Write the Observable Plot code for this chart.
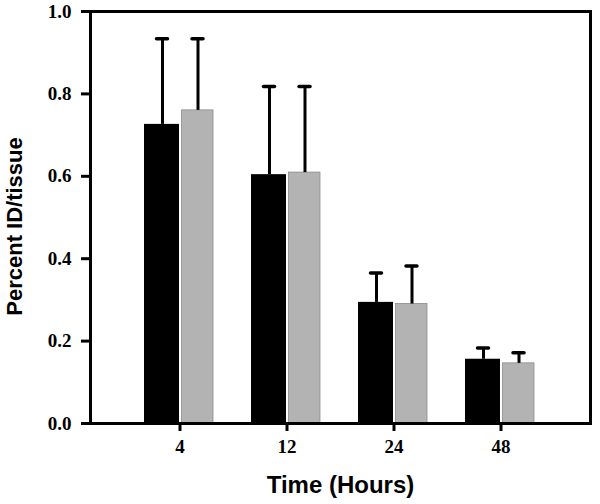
<!DOCTYPE html>
<html>
<head>
<meta charset="utf-8">
<script src="https://cdn.jsdelivr.net/npm/d3@7"></script>
<script src="https://cdn.jsdelivr.net/npm/@observablehq/plot@0.6"></script>
<style>
  html, body { margin: 0; padding: 0; background: #fff; }
</style>
</head>
<body>
<div id="chart"></div>
<script>
const times = ["4", "12", "24", "48"];
const meanBlack = [0.726, 0.604, 0.294, 0.156];
const sdBlack   = [0.208, 0.214, 0.071, 0.027];
const meanGrey  = [0.760, 0.609, 0.290, 0.146];
const sdGrey    = [0.174, 0.209, 0.092, 0.026];
const yTicks = [0, 0.2, 0.4, 0.6, 0.8, 1.0];
const xLabel = "Time (Hours)";
const yLabel = "Percent ID/tissue";

const black = times.map((t, i) => ({time: t, mean: meanBlack[i], top: meanBlack[i] + sdBlack[i]}));
const grey  = times.map((t, i) => ({time: t, mean: meanGrey[i],  top: meanGrey[i] + sdGrey[i]}));

const sans = "'Liberation Sans', Arial, sans-serif";
const serif = "'Liberation Serif', 'Times New Roman', serif";
const fmt = d3.format(".1f");

const chart = Plot.plot({
  width: 600,
  height: 504,
  marginLeft: 90,
  marginRight: 10,
  marginTop: 11,
  marginBottom: 81,
  style: {background: "white", color: "black"},
  x: {domain: times, paddingInner: 0, paddingOuter: 0.336, axis: null},
  y: {domain: [0, 1], axis: null},
  marks: [
    Plot.barY(black, {x: "time", y: "mean", fill: "black", insetLeft: 18, insetRight: 54}),
    Plot.barY(grey, {x: "time", y: "mean", fill: "#b3b3b3", stroke: "#8c8c8c", strokeWidth: 0.8, insetLeft: 55.5, insetRight: 20}),
    Plot.ruleX(black, {x: "time", y1: "mean", y2: "top", dx: -17.5, stroke: "black", strokeWidth: 3}),
    Plot.ruleX(grey, {x: "time", y1: "mean", y2: "top", dx: 18, stroke: "black", strokeWidth: 3}),
    Plot.tickY(black, {x: "time", y: "top", dx: -17.5, insetLeft: 48, insetRight: 48, stroke: "black", strokeWidth: 3.5, strokeLinecap: "round"}),
    Plot.tickY(grey, {x: "time", y: "top", dx: 18, insetLeft: 48, insetRight: 48, stroke: "black", strokeWidth: 3.5, strokeLinecap: "round"}),
    Plot.frame({stroke: "black", strokeWidth: 3}),
    Plot.axisY({ticks: yTicks, tickFormat: () => "", tickSize: 9, strokeWidth: 3, label: null}),
    Plot.axisX({tickSize: 8, tickFormat: () => "", strokeWidth: 3, label: null}),
    Plot.text(yTicks, {y: d => d, text: d => fmt(d), frameAnchor: "left", dx: -19, textAnchor: "end", fontFamily: serif, fontWeight: "bold", fontSize: 19, fill: "black"}),
    Plot.text(times, {x: d => d, text: d => d, frameAnchor: "bottom", dy: 29, fontFamily: serif, fontWeight: "bold", fontSize: 19, fill: "black"}),
    Plot.text([xLabel], {frameAnchor: "bottom", dy: 69, fontFamily: sans, fontWeight: "bold", fontSize: 24, fill: "black"}),
    Plot.text([yLabel], {frameAnchor: "left", dx: -76, dy: 9, rotate: -90, textAnchor: "middle", fontFamily: sans, fontWeight: "bold", fontSize: 22, fill: "black"})
  ]
});
document.getElementById("chart").appendChild(chart);
</script>
</body>
</html>
